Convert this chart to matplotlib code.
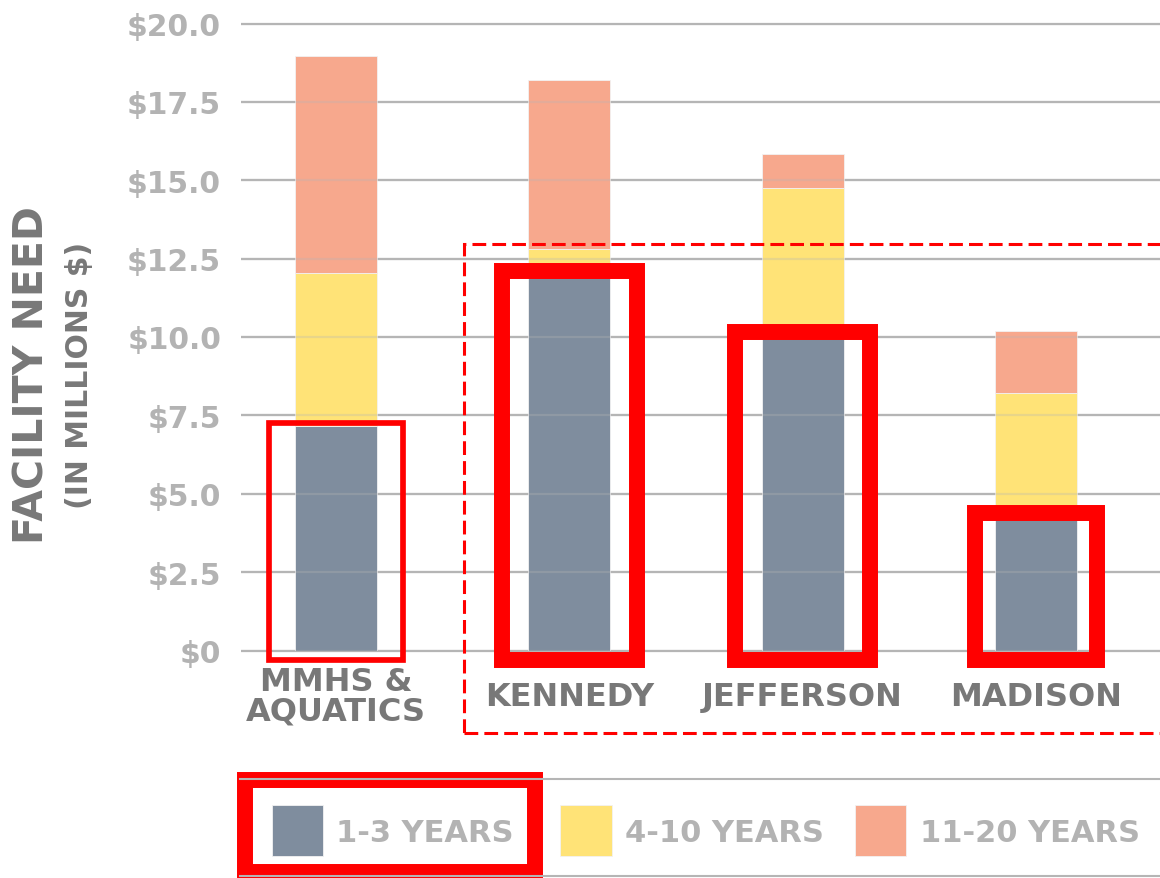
import numpy as np
import matplotlib.pyplot as plt
from matplotlib.patches import Rectangle
from matplotlib.lines import Line2D

# data (millions of dollars)
schools = ['MMHS &\nAQUATICS', 'KENNEDY', 'JEFFERSON', 'MADISON']
series_names = ['1-3 YEARS', '4-10 YEARS', '11-20 YEARS']
need_1_3 = [7.15, 12.0, 10.05, 4.3]
need_4_10 = [4.9, 0.8, 4.7, 3.9]
need_11_20 = [6.9, 5.4, 1.1, 2.0]
y_ticks = [0, 2.5, 5, 7.5, 10, 12.5, 15, 17.5, 20]

colors = ['#7F8D9E', '#FFE377', '#F7A88D']
GRID = '#b5b5b5'
LIGHT = '#b3b3b3'
DARK = '#787878'
RED = '#ff0000'

W, H = 1160, 879


def fx(x):
    return x / W


def fy(y):
    return 1 - y / H


fig = plt.figure(figsize=(W / 100, H / 100), dpi=100)
ax = fig.add_axes([fx(241), fy(651.5), 1 - fx(241), (651.5 - 24.5) / H])

x = np.arange(len(schools))
xmin, xmax = -0.4066, 3.531
ax.set_xlim(xmin, xmax)
ax.set_ylim(0, 20)

# gridlines, under the bars and again faintly over them
ax.hlines(y_ticks, xmin, xmax, color=GRID, lw=1.6, zorder=0, clip_on=False)

bottom = np.zeros(len(schools))
for vals, col in zip([need_1_3, need_4_10, need_11_20], colors):
    ax.bar(x, vals, width=0.352, bottom=bottom, color=col,
           edgecolor='#f2f2f2', linewidth=0.6, zorder=2)
    bottom += np.array(vals)

ax.hlines(y_ticks, xmin, xmax, color=GRID, lw=1.6, zorder=3, alpha=0.3)

# red highlight boxes around the 1-3 year bars
boxes = [(0, 0.286, 4.1), (1, 0.288, 11.5), (2, 0.288, 11.5), (3, 0.262, 11.5)]
for i, hw, lw in boxes:
    top = need_1_3[i] + 0.1
    ax.add_patch(Rectangle((x[i] - hw, -0.3), 2 * hw, top + 0.3, fill=False,
                           edgecolor=RED, lw=lw, joinstyle='miter',
                           clip_on=False, zorder=5))

# dashed box around the three elementary schools
ax.add_patch(Rectangle((0.55, -2.63), 4.0, 15.61, fill=False, edgecolor=RED,
                       lw=2.2, linestyle=(0, (4.5, 2)), clip_on=False, zorder=5))

for s in ax.spines.values():
    s.set_visible(False)

ax.set_yticks(y_ticks)
ax.set_yticklabels(['$0' if v == 0 else '${:.1f}'.format(v) for v in y_ticks],
                   fontsize=21.4, fontweight='bold', color=LIGHT)
ax.tick_params(axis='y', length=0, pad=14.4)

ax.set_xticks(x)
ax.set_xticklabels(schools, fontsize=23, fontweight='bold', color=DARK,
                   va='center', linespacing=0.95)
ax.tick_params(axis='x', length=0, pad=33)

# y axis title, two lines
fig.text(fx(33), fy(375), 'FACILITY NEED', rotation=90, ha='center',
         va='center', fontsize=29.5, fontweight='bold', color=DARK)
fig.text(fx(80), fy(375), '(IN MILLIONS $)', rotation=90, ha='center',
         va='center', fontsize=21.5, fontweight='bold', color=DARK)

# legend drawn by hand
fig.add_artist(Line2D([fx(240), 1], [fy(780), fy(780)], color=GRID, lw=1.5))
fig.add_artist(Line2D([fx(240), 1], [fy(877), fy(877)], color=GRID, lw=1.5))

swatch_x = [271.5, 560, 854.5]
for name, col, sx in zip(series_names, colors, swatch_x):
    fig.add_artist(Rectangle((fx(sx), fy(857)), 51.5 / W, 51.3 / H,
                             transform=fig.transFigure, facecolor=col,
                             edgecolor='#f2f2f2', lw=0.6))
    fig.text(fx(sx + 65), fy(834), name, ha='left', va='center',
             fontsize=22, fontweight='bold', color=LIGHT)

fig.add_artist(Rectangle((fx(245), fy(873)), 290 / W, 92 / H,
                         transform=fig.transFigure, fill=False,
                         edgecolor=RED, lw=11.5, joinstyle='miter'))

plt.savefig('out.png', dpi=100)
